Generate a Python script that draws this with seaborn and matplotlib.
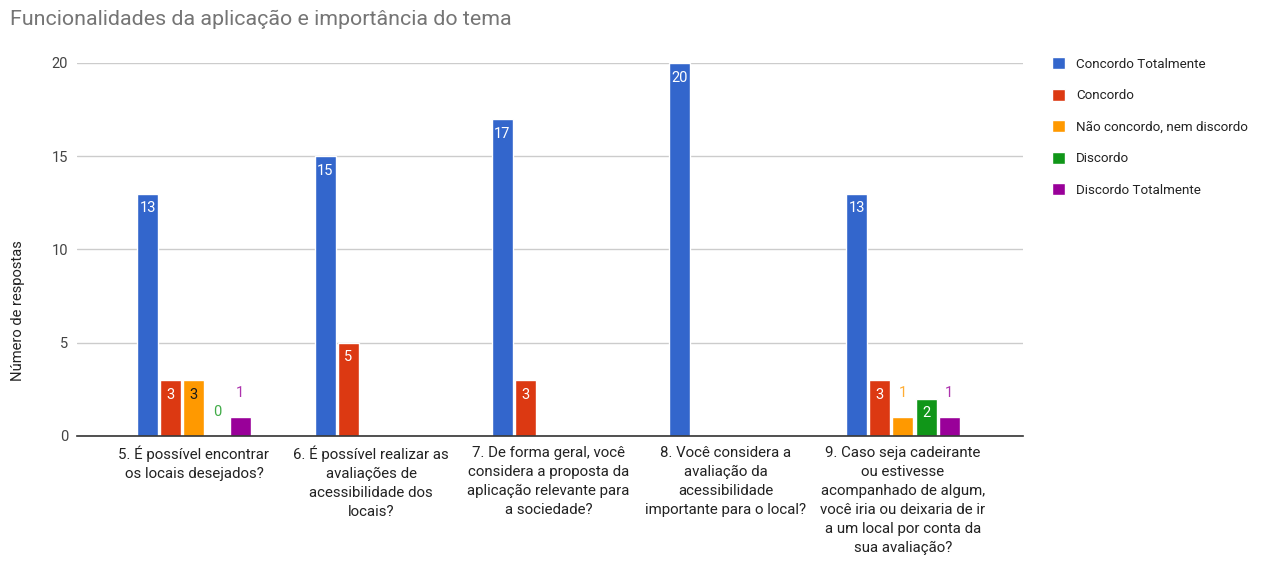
import numpy as np
import pandas as pd
import matplotlib
matplotlib.use("Agg")
import matplotlib.pyplot as plt
import seaborn as sns

categories = [
    "5. É possível encontrar\nos locais desejados?",
    "6. É possível realizar as\navaliações de\nacessibilidade dos\nlocais?",
    "7. De forma geral, você\nconsidera a proposta da\naplicação relevante para\na sociedade?",
    "8. Você considera a\navaliação da\nacessibilidade\nimportante para o local?",
    "9. Caso seja cadeirante\nou estivesse\nacompanhado de algum,\nvocê iria ou deixaria de ir\na um local por conta da\nsua avaliação?",
]
series = ["Concordo Totalmente", "Concordo", "Não concordo, nem discordo", "Discordo", "Discordo Totalmente"]
concordo_totalmente = [13, 15, 17, 20, 13]
concordo = [3, 5, 3, None, 3]
nao_concordo_nem_discordo = [3, None, None, None, 1]
discordo = [0, None, None, None, 2]
discordo_totalmente = [1, None, None, None, 1]
colors = ["#3366cc", "#dc3912", "#ff9900", "#109618", "#990099"]
inside_text_colors = ["white", "white", "#1a1a1a", "white", "white"]

values = [concordo_totalmente, concordo, nao_concordo_nem_discordo, discordo, discordo_totalmente]
rows = []
for s, vals in zip(series, values):
    for c, v in zip(categories, vals):
        if v is not None:
            rows.append({"Pergunta": c, "Resposta": s, "Valor": v})
df = pd.DataFrame(rows)

sns.set_theme(style="white")
plt.rcParams["font.family"] = ["Roboto", "DejaVu Sans"]

fig = plt.figure(figsize=(12.62, 5.68), dpi=100)
ax = fig.add_axes([0.061, 0.2324, 0.7496, 0.6567])

sns.barplot(data=df, x="Pergunta", y="Valor", hue="Resposta",
            order=categories, hue_order=series, palette=colors,
            width=0.65, gap=0.09, ax=ax, legend=True, saturation=1,
            errorbar=None)

ax.set_ylim(0, 20)
ax.set_xlim(-0.66, 4.677)
ax.set_yticks([0, 5, 10, 15, 20])
ax.yaxis.grid(True, color="#cccccc", linewidth=1)
ax.set_axisbelow(True)
for sp in ["top", "right", "left"]:
    ax.spines[sp].set_visible(False)
ax.spines["bottom"].set_color("#333333")
ax.spines["bottom"].set_linewidth(1.2)
ax.tick_params(axis="both", length=0)
ax.tick_params(axis="y", labelsize=10.5, labelcolor="#444444", pad=6.5)
ax.tick_params(axis="x", labelsize=10.8, labelcolor="#222222", pad=7)
for lbl in ax.get_xticklabels():
    lbl.set_linespacing(1.45)
ax.set_xlabel("")
ax.set_ylabel("Número de respostas", fontsize=10.6, color="#222222")
ax.yaxis.set_label_coords(-0.055, 0.335)

# value labels
for i, cont in enumerate(ax.containers):
    for bar in cont:
        h = bar.get_height()
        if h is None or np.isnan(h):
            continue
        xc = bar.get_x() + bar.get_width() / 2
        if h >= 1.5:
            ax.annotate(f"{int(h)}", (xc, h), xytext=(0, -10.5), textcoords="offset points",
                        ha="center", va="center", fontsize=10.5, color=inside_text_colors[i])
        else:
            ax.annotate(f"{int(h)}", (xc, h), xytext=(0, 17.5), textcoords="offset points",
                        ha="center", va="center", fontsize=10.5, color=colors[i], alpha=0.8)

handles, labels = ax.get_legend_handles_labels()
ax.legend(handles, labels, loc="upper left", bbox_to_anchor=(1.025, 1.03), frameon=False,
          fontsize=9.6, labelcolor="#222222", handlelength=1.0, handleheight=1.0,
          handletextpad=0.8, labelspacing=1.35, borderaxespad=0)

fig.text(0.008, 0.966, "Funcionalidades da aplicação e importância do tema",
         fontsize=15.4, color="#757575", ha="left", va="center")

fig.savefig("out.png", dpi=100)
